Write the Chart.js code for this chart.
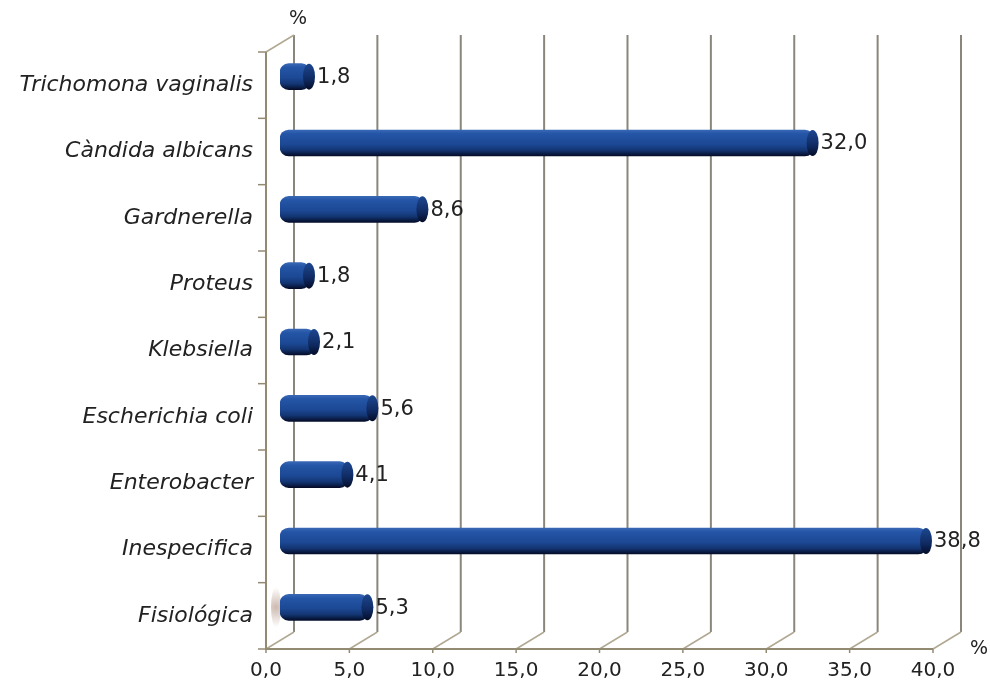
<!DOCTYPE html>
<html>
<head>
<meta charset="utf-8">
<script src="https://cdn.jsdelivr.net/npm/chart.js@4.4.1/dist/chart.umd.min.js"></script>
<style>
  html, body { margin: 0; padding: 0; background: #fff; }
  #wrap { width: 990px; height: 686px; position: relative; }
</style>
</head>
<body>
<div id="wrap"><canvas id="myChart" width="990" height="686"></canvas></div>
<script>
// data, top to bottom
var categories = ['Trichomona vaginalis', 'Càndida albicans', 'Gardnerella', 'Proteus',
                  'Klebsiella', 'Escherichia coli', 'Enterobacter', 'Inespecifica', 'Fisiológica'];
var percentValues = [1.8, 32.0, 8.6, 1.8, 2.1, 5.6, 4.1, 38.8, 5.3];
var xTickValues = [0, 5, 10, 15, 20, 25, 30, 35, 40];

// depth of the fake 3d box
var DX = 28, DY = -17;
var FONT = 'DejaVu Sans';

function fmt(v) {
    return v.toFixed(1).replace('.', ',');
}

// walls, floor and back grid lines
var framePlugin = {
    id: 'frame',
    beforeDatasetsDraw: function(chart) {
        var c = chart.ctx, x = chart.scales.x, y = chart.scales.y;
        var L = chart.chartArea.left, R = chart.chartArea.right;
        var T = chart.chartArea.top, B = chart.chartArea.bottom;
        c.save();
        // back vertical lines
        c.strokeStyle = '#8a867c';
        c.lineWidth = 2;
        xTickValues.forEach(function(v) {
            var px = x.getPixelForValue(v);
            c.beginPath();
            c.moveTo(px + DX, T + DY);
            c.lineTo(px + DX, B + DY);
            c.stroke();
        });
        // floor diagonals
        c.strokeStyle = '#b0a892';
        c.lineWidth = 1.5;
        xTickValues.forEach(function(v) {
            var px = x.getPixelForValue(v);
            c.beginPath();
            c.moveTo(px, B);
            c.lineTo(px + DX, B + DY);
            c.stroke();
        });
        // left wall top diagonal
        c.beginPath();
        c.moveTo(L, T);
        c.lineTo(L + DX, T + DY);
        c.stroke();
        // faint shadow at the floor of the last bar
        var sy = y.getPixelForValue(categories.length - 1) + DY / 2;
        var g = c.createRadialGradient(L + 10, sy, 1, L + 10, sy, 20);
        g.addColorStop(0, 'rgba(150,110,90,0.45)');
        g.addColorStop(1, 'rgba(150,110,90,0)');
        c.fillStyle = g;
        c.beginPath();
        c.ellipse(L + 10, sy, 5, 20, 0, 0, Math.PI * 2);
        c.fill();
        // percent markers
        c.fillStyle = '#222';
        c.font = '19px ' + FONT;
        c.textAlign = 'center';
        c.textBaseline = 'middle';
        c.fillText('%', L + DX + 4, T + DY - 16);
        c.fillText('%', R + DX + 18, B);
        c.restore();
        // bars sit in the middle of the depth
        c.save();
        c.translate(DX / 2, DY / 2);
    },
    afterDatasetsDraw: function(chart) {
        var c = chart.ctx;
        var meta = chart.getDatasetMeta(0);
        // right caps of the cylinders and the value labels
        meta.data.forEach(function(bar, i) {
            var h = bar.height;
            var g = c.createLinearGradient(0, bar.y - h / 2, 0, bar.y + h / 2);
            g.addColorStop(0, '#1d4790');
            g.addColorStop(0.6, '#0f2a62');
            g.addColorStop(1, '#040c26');
            c.fillStyle = g;
            c.beginPath();
            c.ellipse(bar.x - 1, bar.y, 6, h / 2, 0, 0, Math.PI * 2);
            c.fill();
            c.fillStyle = '#222';
            c.font = '21px ' + FONT;
            c.textAlign = 'left';
            c.textBaseline = 'middle';
            c.fillText(fmt(percentValues[i]), bar.x + 7, bar.y + 1);
        });
        c.restore();
    },
    afterDraw: function(chart) {
        var c = chart.ctx, x = chart.scales.x, y = chart.scales.y;
        var L = chart.chartArea.left, R = chart.chartArea.right;
        var T = chart.chartArea.top, B = chart.chartArea.bottom;
        c.save();
        c.strokeStyle = '#938a72';
        c.lineWidth = 2;
        // front left edge and front floor edge
        c.beginPath();
        c.moveTo(L, T);
        c.lineTo(L, B);
        c.lineTo(R, B);
        c.stroke();
        // left tick marks at band edges
        c.lineWidth = 1.5;
        for (var i = 0; i <= categories.length; i++) {
            var py = y.getPixelForValue(i - 0.5);
            c.beginPath();
            c.moveTo(L - 8, py);
            c.lineTo(L, py);
            c.stroke();
        }
        // bottom tick marks
        xTickValues.forEach(function(v) {
            var px = x.getPixelForValue(v);
            c.beginPath();
            c.moveTo(px, B);
            c.lineTo(px, B + 4);
            c.stroke();
        });
        c.restore();
    }
};

function barFill(context) {
    var chart = context.chart;
    if (!chart.chartArea) return '#1d4b97';
    // the context is already shifted into the depth when bars are drawn
    var py = chart.scales.y.getPixelForValue(context.dataIndex);
    var h = 26;
    var g = chart.ctx.createLinearGradient(0, py - h / 2, 0, py + h / 2);
    g.addColorStop(0, '#3867b4');
    g.addColorStop(0.15, '#2455a6');
    g.addColorStop(0.55, '#1c4894');
    g.addColorStop(0.78, '#133572');
    g.addColorStop(1, '#040c28');
    return g;
}

var ctx = document.getElementById('myChart').getContext('2d');
var myChart = new Chart(ctx, {
    type: 'bar',
    data: {
        labels: categories,
        datasets: [{
            data: percentValues,
            backgroundColor: barFill,
            borderWidth: 0,
            borderRadius: 9,
            borderSkipped: false,
            barThickness: 26
        }]
    },
    options: {
        indexAxis: 'y',
        responsive: false,
        animation: false,
        layout: { padding: { top: 52, right: 57, left: 0, bottom: 0 } },
        plugins: { legend: { display: false }, tooltip: { enabled: false } },
        scales: {
            x: {
                min: 0,
                max: 40,
                ticks: {
                    stepSize: 5,
                    color: '#222',
                    font: { family: FONT, size: 20 },
                    padding: 2,
                    maxRotation: 0,
                    callback: function(v) { return fmt(v); }
                },
                grid: { display: false },
                border: { display: false },
                afterFit: function(s) { s.height = 37; }
            },
            y: {
                ticks: {
                    color: '#222',
                    font: { family: FONT, size: 22, style: 'italic' },
                    padding: 5
                },
                grid: { display: false },
                border: { display: false },
                afterFit: function(s) { s.width = 266; }
            }
        }
    },
    plugins: [framePlugin]
});
</script>
</body>
</html>
